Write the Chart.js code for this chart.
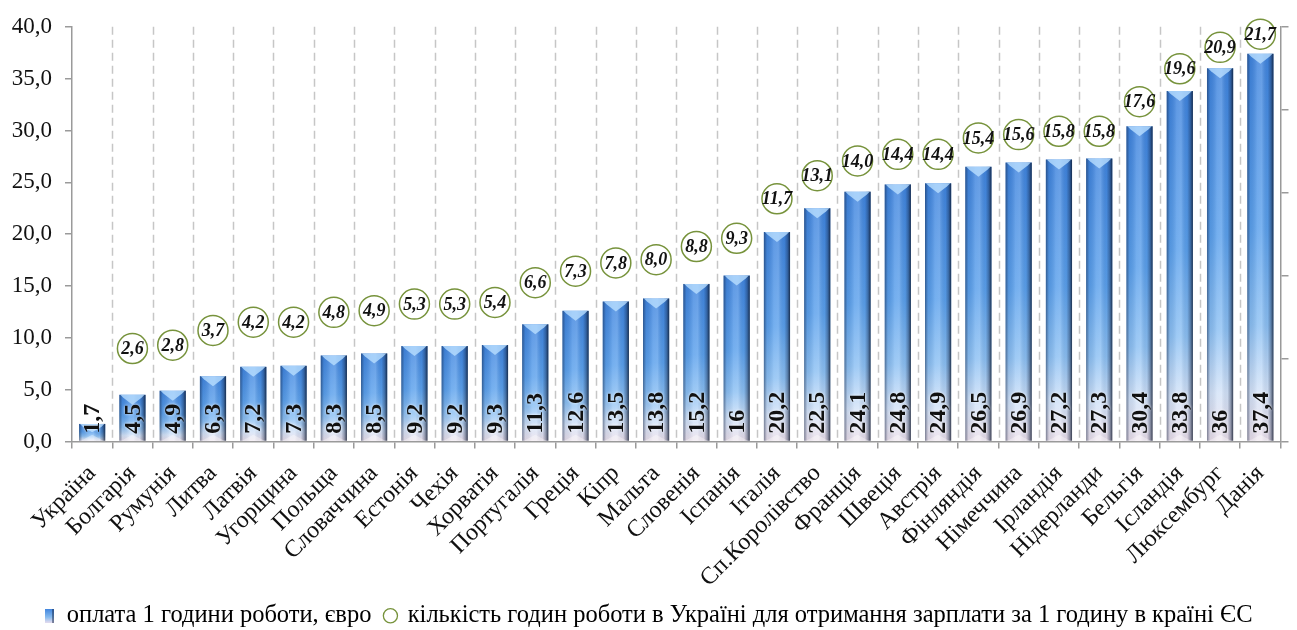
<!DOCTYPE html>
<html>
<head>
<meta charset="utf-8">
<script src="https://cdn.jsdelivr.net/npm/chart.js@4.4.1/dist/chart.umd.min.js"></script>
<style>
  html, body { margin: 0; padding: 0; background: #fff; }
  #wrap { width: 1297px; height: 630px; }
</style>
</head>
<body>
<div id="wrap"><canvas id="chart"></canvas></div>
<script>
var countries = ['Україна', 'Болгарія', 'Румунія', 'Литва', 'Латвія', 'Угорщина', 'Польща', 'Словаччина',
  'Естонія', 'Чехія', 'Хорватія', 'Португалія', 'Греція', 'Кіпр', 'Мальта', 'Словенія', 'Іспанія',
  'Італія', 'Сп.Королівство', 'Франція', 'Швеція', 'Австрія', 'Фінляндія', 'Німеччина', 'Ірландія',
  'Нідерланди', 'Бельгія', 'Ісландія', 'Люксембург', 'Данія'];

// оплата 1 години роботи, євро
var payPerHour = [1.7, 4.5, 4.9, 6.3, 7.2, 7.3, 8.3, 8.5, 9.2, 9.2, 9.3, 11.3, 12.6, 13.5, 13.8, 15.2, 16,
  20.2, 22.5, 24.1, 24.8, 24.9, 26.5, 26.9, 27.2, 27.3, 30.4, 33.8, 36, 37.4];

// кількість годин роботи в Україні
var hoursInUkraine = [null, 2.6, 2.8, 3.7, 4.2, 4.2, 4.8, 4.9, 5.3, 5.3, 5.4, 6.6, 7.3, 7.8, 8.0, 8.8, 9.3,
  11.7, 13.1, 14.0, 14.4, 14.4, 15.4, 15.6, 15.8, 15.8, 17.6, 19.6, 20.9, 21.7];

var yTicks = [0, 5, 10, 15, 20, 25, 30, 35, 40];
var y2Range = [-3.05, 22.15];

var legendNames = ['оплата 1 години роботи, євро',
  'кількість годин роботи в Україні для отримання зарплати за 1 годину в країні ЄС'];

var SERIF = "'Liberation Serif', 'Times New Roman', serif";
var AXIS = '#9a9a9a';

function fmt(v) {
  return String(v).replace('.', ',');
}

function barFill(c) {
  var chart = c.chart;
  if (!chart.chartArea || c.raw == null) return '#5597e4';
  var y = chart.scales.y;
  var top = y.getPixelForValue(c.raw), base = y.getPixelForValue(0);
  var g = chart.ctx.createLinearGradient(0, top, 0, base);
  g.addColorStop(0, '#3f84de');
  g.addColorStop(0.45, '#5aa0ec');
  g.addColorStop(0.7, '#8cc0f3');
  g.addColorStop(0.87, '#d4e3f8');
  g.addColorStop(1, '#ebdfea');
  return g;
}

// small marker for the legend
var barMark = document.createElement('canvas');
barMark.width = 9; barMark.height = 14;
(function () {
  var m = barMark.getContext('2d');
  var g = m.createLinearGradient(0, 0, 0, 14);
  g.addColorStop(0, '#3f84de');
  g.addColorStop(0.6, '#86bbef');
  g.addColorStop(1, '#e6dcee');
  m.fillStyle = g;
  m.fillRect(0, 0, 9, 14);
  m.fillStyle = 'rgba(20,35,70,0.5)';
  m.fillRect(7, 0, 2, 14);
})();

// dashed separators between categories
var separators = {
  id: 'separators',
  beforeDatasetsDraw: function (chart) {
    var x = chart.scales.x, a = chart.chartArea, ctx = chart.ctx;
    ctx.save();
    ctx.strokeStyle = '#c6c6c6';
    ctx.lineWidth = 1.5;
    ctx.setLineDash([8, 5]);
    for (var i = 1; i < countries.length; i++) {
      var px = Math.round((x.getPixelForTick(i - 1) + x.getPixelForTick(i)) / 2) + 0.5;
      ctx.beginPath();
      ctx.moveTo(px, a.top);
      ctx.lineTo(px, a.bottom);
      ctx.stroke();
    }
    ctx.restore();
  }
};

// cylinder shading on the bars, bar values, circle values
var decor = {
  id: 'decor',
  afterDatasetDraw: function (chart, args) {
    if (args.index !== 0) return;
    var ctx = chart.ctx;
    args.meta.data.forEach(function (bar) {
      var p = bar.getProps(['x', 'y', 'base', 'width'], true);
      var l = p.x - p.width / 2, r = p.x + p.width / 2, t = p.y, b = p.base;
      var h = ctx.createLinearGradient(l, 0, r, 0);
      h.addColorStop(0, 'rgba(15,30,60,0.5)');
      h.addColorStop(0.12, 'rgba(15,30,60,0.08)');
      h.addColorStop(0.38, 'rgba(255,255,255,0.16)');
      h.addColorStop(0.55, 'rgba(255,255,255,0.2)');
      h.addColorStop(0.78, 'rgba(15,30,60,0.06)');
      h.addColorStop(0.9, 'rgba(15,30,60,0.38)');
      h.addColorStop(1, 'rgba(10,20,40,0.8)');
      ctx.save();
      ctx.fillStyle = h;
      ctx.fillRect(l, t, r - l, b - t);
      // top bevel
      ctx.fillStyle = 'rgba(185,222,255,0.8)';
      ctx.beginPath();
      ctx.moveTo(l + 1, t);
      ctx.lineTo(r - 1, t);
      ctx.lineTo(r - 4, t + 3);
      ctx.lineTo(p.x, t + Math.min(10, (b - t) / 2));
      ctx.lineTo(l + 4, t + 3);
      ctx.closePath();
      ctx.fill();
      // bottom bevel
      ctx.fillStyle = 'rgba(255,255,255,0.35)';
      ctx.beginPath();
      ctx.moveTo(l + 2, b);
      ctx.lineTo(r - 2, b);
      ctx.lineTo(p.x, b - 6);
      ctx.closePath();
      ctx.fill();
      ctx.restore();
    });
  },
  afterDatasetsDraw: function (chart) {
    var ctx = chart.ctx;
    ctx.save();
    // values inside the bars
    ctx.font = 'bold 24px ' + SERIF;
    ctx.fillStyle = '#111';
    ctx.textAlign = 'left';
    ctx.textBaseline = 'middle';
    ctx.shadowColor = 'rgba(255,255,255,0.9)';
    ctx.shadowBlur = 3;
    chart.getDatasetMeta(0).data.forEach(function (bar, i) {
      ctx.save();
      ctx.translate(bar.x + 1, bar.base - 7);
      ctx.rotate(-Math.PI / 2);
      ctx.fillText(fmt(payPerHour[i]), 0, 0);
      ctx.restore();
    });
    ctx.shadowBlur = 0;
    // values inside the circles
    ctx.font = 'italic bold 18px ' + SERIF;
    ctx.textAlign = 'center';
    chart.getDatasetMeta(1).data.forEach(function (pt, i) {
      if (hoursInUkraine[i] == null) return;
      ctx.fillText(hoursInUkraine[i].toFixed(1).replace('.', ','), pt.x, pt.y + 1);
    });
    ctx.restore();
  }
};

new Chart(document.getElementById('chart'), {
  type: 'bar',
  data: {
    labels: countries,
    datasets: [{
      type: 'bar',
      label: legendNames[0],
      data: payPerHour,
      backgroundColor: barFill,
      borderWidth: 0,
      barPercentage: 0.65,
      categoryPercentage: 1,
      yAxisID: 'y',
      order: 2
    }, {
      type: 'line',
      label: legendNames[1],
      data: hoursInUkraine,
      yAxisID: 'y2',
      showLine: false,
      pointRadius: 15,
      pointBorderWidth: 1.5,
      pointBorderColor: '#77933c',
      pointBackgroundColor: 'rgba(255,255,255,0.85)',
      clip: false,
      order: 1
    }]
  },
  options: {
    responsive: true,
    maintainAspectRatio: false,
    devicePixelRatio: 1,
    animation: false,
    events: [],
    layout: { padding: { top: 22, left: 0, right: 0, bottom: -8 } },
    plugins: {
      tooltip: { enabled: false },
      legend: {
        position: 'bottom',
        align: 'center',
        labels: {
          color: '#1a1a1a',
          font: { family: SERIF, size: 24.5 },
          usePointStyle: true,
          boxWidth: 10,
          boxHeight: 10,
          padding: 14,
          generateLabels: function () {
            return [{
              text: legendNames[0], pointStyle: barMark, fillStyle: '#5597e4',
              strokeStyle: 'transparent', lineWidth: 0, datasetIndex: 0
            }, {
              text: legendNames[1], pointStyle: 'circle', fillStyle: '#fff',
              strokeStyle: '#77933c', lineWidth: 1.3, datasetIndex: 1
            }];
          }
        }
      }
    },
    scales: {
      x: {
        grid: { drawOnChartArea: false, drawTicks: true, tickLength: 7, color: AXIS, lineWidth: 1.5, offset: true },
        border: { color: AXIS, width: 1.5 },
        ticks: {
          color: '#111',
          font: { family: SERIF, size: 24 },
          maxRotation: 45,
          minRotation: 45,
          autoSkip: false,
          padding: 11
        },
        afterFit: function (s) { s.height = 148; }
      },
      y: {
        position: 'left',
        min: 0,
        max: 40,
        grid: { drawOnChartArea: false, tickLength: 7, color: AXIS, lineWidth: 1.5 },
        border: { color: AXIS, width: 1.5 },
        afterBuildTicks: function (s) {
          s.ticks = yTicks.map(function (v) { return { value: v }; });
        },
        ticks: {
          color: '#111',
          font: { family: SERIF, size: 23 },
          padding: 13,
          callback: function (v) { return v.toFixed(1).replace('.', ','); }
        },
        afterFit: function (s) { s.width = 72; }
      },
      y2: {
        position: 'right',
        min: y2Range[0],
        max: y2Range[1],
        grid: { drawOnChartArea: false, tickLength: 8, color: AXIS, lineWidth: 1.5 },
        border: { color: AXIS, width: 1.5 },
        afterBuildTicks: function (s) {
          var step = (y2Range[1] - y2Range[0]) / 5, t = [];
          for (var i = 0; i <= 5; i++) t.push({ value: y2Range[0] + i * step });
          s.ticks = t;
        },
        ticks: { display: false },
        afterFit: function (s) { s.width = 14; }
      }
    }
  },
  plugins: [separators, decor]
});
</script>
</body>
</html>
